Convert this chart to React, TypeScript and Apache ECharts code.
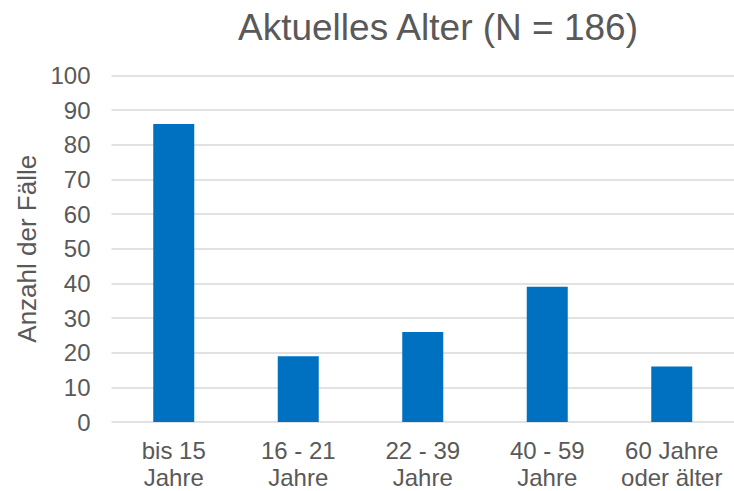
import React, { useEffect, useRef } from "react";
import * as echarts from "echarts";

const categories = ["bis 15\nJahre", "16 - 21\nJahre", "22 - 39\nJahre", "40 - 59\nJahre", "60 Jahre\noder älter"];
const values = [86, 19, 26, 39, 16];
const titleText = "Aktuelles Alter (N = 186)";
const yAxisName = "Anzahl der Fälle";

export default function App() {
  const ref = useRef<HTMLDivElement>(null);
  useEffect(() => {
    if (!ref.current) return;
    const chart = echarts.init(ref.current, undefined, { renderer: "svg" });
    const font = "'Liberation Sans', Arial, sans-serif";
    chart.setOption({
      animation: false,
      backgroundColor: "#ffffff",
      title: {
        text: titleText,
        left: 433,
        top: 4,
        textAlign: "center",
        textStyle: { fontFamily: font, fontSize: 37, fontWeight: "normal", color: "#595959" },
      },
      grid: { left: 111.5, right: -7.5, top: 75.5, bottom: 491 - 423, containLabel: false },
      xAxis: {
        type: "category",
        data: categories,
        axisLine: { show: false },
        axisTick: { show: false },
        axisLabel: { fontFamily: font, fontSize: 24, color: "#595959", lineHeight: 27, margin: 15, interval: 0 },
      },
      yAxis: {
        type: "value",
        min: 0,
        max: 100,
        interval: 10,
        name: yAxisName,
        nameLocation: "middle",
        nameGap: 69,
        nameTextStyle: { fontFamily: font, fontSize: 26, color: "#595959" },
        axisLine: { show: false },
        axisTick: { show: false },
        axisLabel: { fontFamily: font, fontSize: 24, color: "#595959", margin: 21 },
        splitLine: { lineStyle: { color: "#d9d9d9", width: 1.5 } },
      },
      series: [
        {
          type: "bar",
          data: values,
          barWidth: 41,
          itemStyle: { color: "#0070C0" },
        },
      ],
    });
    return () => chart.dispose();
  }, []);
  return <div ref={ref} style={{ position: "fixed", left: 0, top: 0, width: 734, height: 491 }} />;
}
